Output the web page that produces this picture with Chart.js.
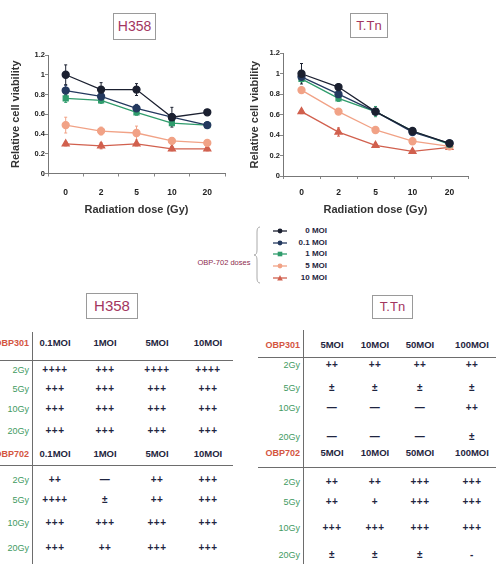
<!DOCTYPE html>
<html>
<head>
<meta charset="utf-8">
<script src="https://cdn.jsdelivr.net/npm/chart.js@4.4.1/dist/chart.umd.min.js"></script>
<style>
  body { margin: 0; width: 496px; height: 564px; background: #fff; position: relative; overflow: hidden;
         font-family: "Liberation Sans", Arial, sans-serif; }
  canvas { position: absolute; }
  .box { position: absolute; border: 1px solid #9a9a9a; color: #a3365f; text-align: center; }
  .t { position: absolute; white-space: nowrap; line-height: 12px; height: 12px; }
  .ln { position: absolute; background: #6d6d6d; }
</style>
</head>
<body>
<div class="box" style="left:113px;top:13px;width:41px;height:25px;line-height:25px;font-size:14px;">H358</div>
<div class="box" style="left:350px;top:13px;width:36px;height:23px;line-height:23px;font-size:13px;">T.Tn</div>
<canvas id="h358" width="232" height="175" style="left:0;top:45px"></canvas>
<canvas id="ttn" width="236" height="175" style="left:240px;top:45px"></canvas>
<div id="legend"></div>
<div class="box" style="left:86px;top:293px;width:50px;height:24px;line-height:24px;font-size:15px;">H358</div>
<div class="box" style="left:372px;top:295px;width:39px;height:22px;line-height:22px;font-size:13px;">T.Tn</div>
<div id="tables"></div>

<script>
// x categories and series names
const doseLabels = ['0', '2', '5', '10', '20'];
const moiLabels = ['0 MOI', '0.1 MOI', '1 MOI', '5 MOI', '10 MOI'];

// H358 relative viability
const h358Moi0 = [1.00, 0.85, 0.85, 0.57, 0.62];
const h358Moi01 = [0.84, 0.78, 0.66, 0.57, 0.49];
const h358Moi1 = [0.76, 0.74, 0.62, 0.51, 0.49];
const h358Moi5 = [0.49, 0.43, 0.41, 0.33, 0.31];
const h358Moi10 = [0.30, 0.28, 0.30, 0.25, 0.25];
// H358 error bar half lengths
const h358Err0 = [0.10, 0.07, 0.06, 0.10, 0.02];
const h358Err01 = [0.05, 0.05, 0.04, 0.03, 0.02];
const h358Err1 = [0.04, 0.03, 0.03, 0.02, 0.03];
const h358Err5 = [0.08, 0.04, 0.07, 0.03, 0.02];
const h358Err10 = [0.02, 0.03, 0.02, 0.02, 0.02];

// T.Tn relative viability
const ttnMoi0 = [1.00, 0.87, 0.63, 0.44, 0.32];
const ttnMoi01 = [0.97, 0.80, 0.63, 0.43, 0.32];
const ttnMoi1 = [0.95, 0.76, 0.63, 0.44, 0.31];
const ttnMoi5 = [0.84, 0.63, 0.45, 0.34, 0.29];
const ttnMoi10 = [0.63, 0.43, 0.30, 0.24, 0.28];
const ttnErr0 = [0.10, 0.03, 0.03, 0.02, 0.02];
const ttnErr01 = [0.03, 0.03, 0.03, 0.02, 0.02];
const ttnErr1 = [0.03, 0.03, 0.05, 0.02, 0.02];
const ttnErr5 = [0.02, 0.02, 0.03, 0.02, 0.02];
const ttnErr10 = [0.02, 0.04, 0.02, 0.02, 0.02];

const yTicks = [0, 0.2, 0.4, 0.6, 0.8, 1, 1.2];

// tables
const gyRows = ['2Gy', '5Gy', '10Gy', '20Gy'];
const h358Cols = ['0.1MOI', '1MOI', '5MOI', '10MOI'];
const h358Obp301 = [
  ['++++', '+++', '++++', '++++'],
  ['+++', '+++', '+++', '+++'],
  ['+++', '+++', '+++', '+++'],
  ['+++', '+++', '+++', '+++']
];
const h358Obp702 = [
  ['++', '\u2014', '++', '+++'],
  ['++++', '\u00b1', '++', '+++'],
  ['+++', '+++', '+++', '+++'],
  ['+++', '++', '+++', '+++']
];
const ttnCols = ['5MOI', '10MOI', '50MOI', '100MOI'];
const ttnObp301 = [
  ['++', '++', '++', '++'],
  ['\u00b1', '\u00b1', '\u00b1', '\u00b1'],
  ['\u2014', '\u2014', '\u2014', '++'],
  ['\u2014', '\u2014', '\u2014', '\u00b1']
];
const ttnObp702 = [
  ['++', '++', '+++', '+++'],
  ['++', '+', '+++', '+++'],
  ['+++', '+++', '+++', '+++'],
  ['\u00b1', '\u00b1', '\u00b1', '-']
];

const colors = ['#1b2030', '#24395f', '#2f9c6c', '#f1a286', '#d1604e'];
const markers = ['circle', 'circle', 'rect', 'circle', 'triangle'];
const radii = [3.5, 3.5, 3.5, 3.5, 4];

// vertical error bars drawn from the y scale
const errorBars = {
  id: 'errorBars',
  beforeDatasetsDraw(chart) {
    const ctx = chart.ctx;
    const y = chart.scales.y;
    chart.data.datasets.forEach((ds, i) => {
      const meta = chart.getDatasetMeta(i);
      ctx.save();
      ctx.strokeStyle = ds.borderColor;
      ctx.lineWidth = 1;
      meta.data.forEach((pt, j) => {
        const e = ds.errors[j];
        const top = y.getPixelForValue(ds.data[j] + e);
        const bot = y.getPixelForValue(ds.data[j] - e);
        ctx.beginPath();
        ctx.moveTo(pt.x, top); ctx.lineTo(pt.x, bot);
        ctx.moveTo(pt.x - 1.5, top); ctx.lineTo(pt.x + 1.5, top);
        ctx.moveTo(pt.x - 1.5, bot); ctx.lineTo(pt.x + 1.5, bot);
        ctx.stroke();
      });
      ctx.restore();
    });
  }
};

function makeChart(id, values, errs, cfg) {
  const font = { family: '"Liberation Sans", Arial, sans-serif', weight: 'bold' };
  new Chart(document.getElementById(id), {
    type: 'line',
    data: {
      labels: doseLabels,
      datasets: values.map((v, i) => ({
        label: moiLabels[i],
        data: v,
        errors: errs[i],
        borderColor: colors[i],
        backgroundColor: colors[i],
        pointStyle: markers[i],
        pointRadius: radii[i],
        borderWidth: 1.3,
        tension: 0
      }))
    },
    options: {
      responsive: false,
      animation: false,
      layout: { padding: cfg.pad },
      plugins: { legend: { display: false }, tooltip: { enabled: false } },
      scales: {
        x: {
          offset: true,
          grid: { drawOnChartArea: false, tickLength: 3, offset: true, color: '#888' },
          border: { color: '#777' },
          ticks: { color: '#222', padding: cfg.xPad, font: { ...font, size: 8.5 } },
          title: { display: true, text: 'Radiation dose (Gy)', color: '#333',
                   padding: { top: 0, bottom: 3.5 }, font: { ...font, size: 11 } },
          afterFit: s => { s.height = cfg.xH; }
        },
        y: {
          min: 0, max: 1.2,
          afterBuildTicks: s => { s.ticks = yTicks.map(v => ({ value: v })); },
          grid: { drawOnChartArea: false, tickLength: 3, color: '#888' },
          border: { color: '#777' },
          ticks: { color: '#222', padding: 0, font: { ...font, size: 7.5 },
                   callback: v => String(+v.toFixed(1)) },
          title: { display: true, text: 'Relative cell viability', color: '#333',
                   padding: { top: cfg.yTitlePad, bottom: 0 }, font: { ...font, size: 11 } },
          afterFit: s => { s.width = cfg.yW; }
        }
      }
    },
    plugins: [errorBars]
  });
}

makeChart('h358',
  [h358Moi0, h358Moi01, h358Moi1, h358Moi5, h358Moi10],
  [h358Err0, h358Err01, h358Err1, h358Err5, h358Err10],
  { pad: { top: 10, right: 7, left: 0, bottom: 0 }, yW: 48, xH: 46.5, xPad: 11.5, yTitlePad: 9.5 });
makeChart('ttn',
  [ttnMoi0, ttnMoi01, ttnMoi1, ttnMoi5, ttnMoi10],
  [ttnErr0, ttnErr01, ttnErr1, ttnErr5, ttnErr10],
  { pad: { top: 8.3, right: 8, left: 0, bottom: 0 }, yW: 43, xH: 44, xPad: 8.7, yTitlePad: 8.5 });

// small text helper
function put(parent, text, x, y, align, style) {
  const d = document.createElement('div');
  d.className = 't';
  d.textContent = text;
  const w = 90;
  d.style.width = w + 'px';
  d.style.textAlign = align;
  d.style.left = (align === 'right' ? x - w : x - w / 2) + 'px';
  d.style.top = (y - 6) + 'px';
  Object.assign(d.style, style);
  parent.appendChild(d);
}
function line(parent, x, y, w, h) {
  const d = document.createElement('div');
  d.className = 'ln';
  Object.assign(d.style, { left: x + 'px', top: y + 'px', width: w + 'px', height: h + 'px' });
  parent.appendChild(d);
}

// legend
const legend = document.getElementById('legend');
put(legend, 'OBP-702 doses', 224, 263, 'center', { fontSize: '7.5px', color: '#8e2c4e' });
legend.insertAdjacentHTML('beforeend',
  '<svg style="position:absolute;left:252px;top:226px" width="10" height="58">' +
  '<path d="M8 1 Q5 1 5 6 L5 24 Q5 29 2 29 Q5 29 5 34 L5 52 Q5 57 8 57" fill="none" stroke="#aaa" stroke-width="1"/></svg>');
const legendY = [231, 243, 254, 266, 278];
moiLabels.forEach((name, i) => {
  const y = legendY[i];
  let mark = '';
  if (markers[i] === 'circle') mark = `<circle cx="7" cy="4" r="2.4" fill="${colors[i]}"/>`;
  if (markers[i] === 'rect') mark = `<rect x="4.7" y="1.7" width="4.6" height="4.6" fill="${colors[i]}"/>`;
  if (markers[i] === 'triangle') mark = `<path d="M7 1 L9.8 6.6 L4.2 6.6 Z" fill="${colors[i]}"/>`;
  legend.insertAdjacentHTML('beforeend',
    `<svg style="position:absolute;left:273px;top:${y - 4}px" width="14" height="8">` +
    `<line x1="0" y1="4" x2="14" y2="4" stroke="${colors[i]}" stroke-width="1.3"/>${mark}</svg>`);
  put(legend, name, 327, y, 'right', { fontSize: '8px', fontWeight: 'bold', color: '#1f2540' });
});

// tables
const tables = document.getElementById('tables');
function drawTable(t) {
  line(tables, t.vx, t.vTop, 1, 564 - t.vTop);
  t.groups.forEach(g => {
    put(tables, g.name, t.labelRight, g.hy, 'right', { fontSize: '9px', fontWeight: 'bold', color: '#d4553f' });
    t.cols.forEach((c, k) => put(tables, c, t.colX[k], g.hy, 'center',
      { fontSize: '9.5px', fontWeight: 'bold', color: '#1f2540' }));
    line(tables, t.hx0, g.ly, t.hx1 - t.hx0, 1);
    gyRows.forEach((r, ri) => {
      put(tables, r, t.labelRight, g.ry[ri], 'right', { fontSize: '9px', color: '#3f9a62' });
      g.rows[ri].forEach((v, k) => put(tables, v, t.colX[k], g.ry[ri], 'center',
        { fontSize: '10px', fontWeight: 'bold', color: '#1f2540', letterSpacing: '0.5px' }));
    });
  });
}
drawTable({
  vx: 32, vTop: 332, labelRight: 29, colX: [55, 105, 157, 208], hx0: 0, hx1: 233, cols: h358Cols,
  groups: [
    { name: 'OBP301', hy: 343, ly: 360, ry: [370, 389, 409, 431], rows: h358Obp301 },
    { name: 'OBP702', hy: 454, ly: 465, ry: [480, 500, 523, 548], rows: h358Obp702 }
  ]
});
drawTable({
  vx: 303, vTop: 330, labelRight: 300, colX: [332, 375, 420, 472], hx0: 258, hx1: 496, cols: ttnCols,
  groups: [
    { name: 'OBP301', hy: 345, ly: 357, ry: [365, 388, 408, 437], rows: ttnObp301 },
    { name: 'OBP702', hy: 453, ly: 467, ry: [482, 502, 528, 555], rows: ttnObp702 }
  ]
});
</script>
</body>
</html>
